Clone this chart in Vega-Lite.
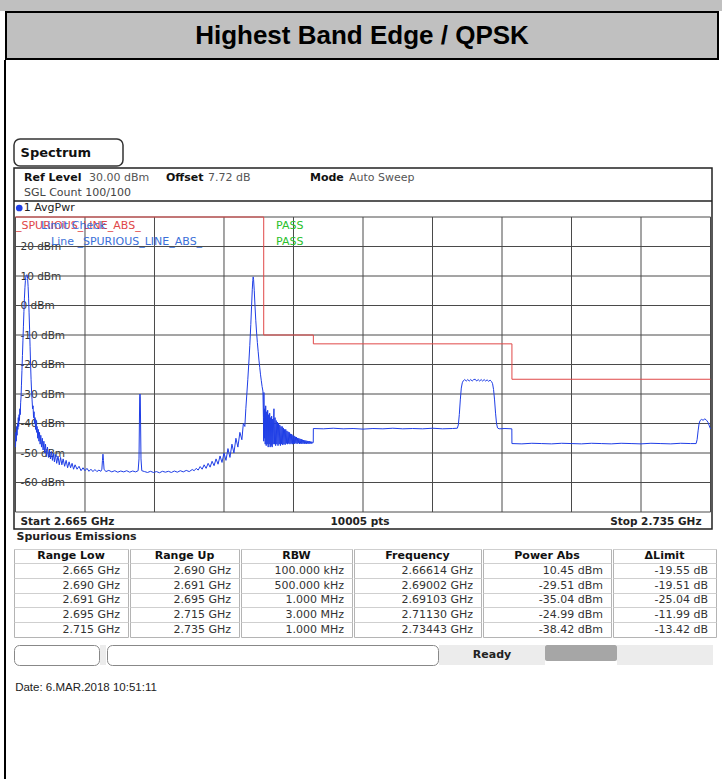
{
  "$schema": "https://vega.github.io/schema/vega-lite/v6.json",
  "background": "white",
  "padding": 0,
  "config": {
    "view": {"stroke": null},
    "concat": {"spacing": 0},
    "font": "DejaVu Sans",
    "text": {"font": "DejaVu Sans", "fontSize": 11}
  },
  "datasets": {
    "limit": [
      {"f": 2665, "lim": 30}, {"f": 2690, "lim": -10}, {"f": 2695, "lim": -13}, {"f": 2715, "lim": -25}, {"f": 2735, "lim": -25}
    ],
    "trace": [
      {"f":2665.00,"p":-48},{"f":2665.04,"p":-43},{"f":2665.08,"p":-46},{"f":2665.12,"p":-41},{"f":2665.16,"p":-44},{"f":2665.20,"p":-40},{"f":2665.24,"p":-42},{"f":2665.28,"p":-38},{"f":2665.32,"p":-41},{"f":2665.36,"p":-37},{"f":2665.40,"p":-39},{"f":2665.44,"p":-35},{"f":2665.48,"p":-37},{"f":2665.52,"p":-33},{"f":2665.56,"p":-31},{"f":2665.60,"p":-27},{"f":2665.65,"p":-22},{"f":2665.70,"p":-17},{"f":2665.75,"p":-12},{"f":2665.80,"p":-7},{"f":2665.85,"p":-2},{"f":2665.90,"p":2.5},{"f":2665.95,"p":6},{"f":2666.00,"p":8.5},{"f":2666.05,"p":9.8},{"f":2666.10,"p":10.3},{"f":2666.14,"p":10.45},{"f":2666.18,"p":10.2},{"f":2666.22,"p":9.2},{"f":2666.27,"p":6.5},{"f":2666.32,"p":2.5},{"f":2666.37,"p":-2.5},{"f":2666.42,"p":-8},{"f":2666.47,"p":-14},{"f":2666.52,"p":-20},{"f":2666.57,"p":-25},{"f":2666.62,"p":-29},{"f":2666.67,"p":-32},{"f":2666.72,"p":-35},{"f":2666.77,"p":-34},{"f":2666.82,"p":-38},{"f":2666.87,"p":-36},{"f":2666.92,"p":-40},{"f":2666.97,"p":-38},{"f":2667.02,"p":-42},{"f":2667.07,"p":-39},{"f":2667.12,"p":-43},{"f":2667.18,"p":-41},{"f":2667.24,"p":-45},{"f":2667.30,"p":-42},{"f":2667.36,"p":-46},{"f":2667.42,"p":-43},{"f":2667.48,"p":-47},{"f":2667.55,"p":-44},{"f":2667.62,"p":-48},{"f":2667.70,"p":-45},{"f":2667.78,"p":-49},{"f":2667.86,"p":-46},{"f":2667.94,"p":-50},
      {"f":2668.02,"p":-47},{"f":2668.12,"p":-51},{"f":2668.22,"p":-48},{"f":2668.32,"p":-51.5},{"f":2668.42,"p":-49},{"f":2668.52,"p":-52},{"f":2668.62,"p":-49.5},{"f":2668.72,"p":-52.5},{"f":2668.82,"p":-50},{"f":2668.92,"p":-53},{"f":2669.02,"p":-50.5},{"f":2669.15,"p":-53.5},{"f":2669.28,"p":-51},{"f":2669.41,"p":-54},{"f":2669.54,"p":-51.5},{"f":2669.67,"p":-54},{"f":2669.80,"p":-52},{"f":2669.95,"p":-54.5},{"f":2670.10,"p":-52.5},{"f":2670.25,"p":-55},{"f":2670.40,"p":-53},{"f":2670.55,"p":-55},{"f":2670.70,"p":-53.5},{"f":2670.85,"p":-55.5},{"f":2671.00,"p":-54},{"f":2671.20,"p":-55.5},{"f":2671.40,"p":-54.5},{"f":2671.60,"p":-56},{"f":2671.80,"p":-55},{"f":2672.00,"p":-56},{"f":2672.20,"p":-55.2},{"f":2672.40,"p":-56.2},{"f":2672.60,"p":-55.5},{"f":2672.80,"p":-56.3},{"f":2673.00,"p":-55.6},{"f":2673.20,"p":-56.3},{"f":2673.40,"p":-55.8},{"f":2673.60,"p":-56.2},
      {"f":2673.70,"p":-55.5},{"f":2673.76,"p":-52.5},{"f":2673.81,"p":-50.4},{"f":2673.86,"p":-52.5},{"f":2673.92,"p":-55.5},
      {"f":2674.10,"p":-56.3},{"f":2674.40,"p":-55.9},{"f":2674.70,"p":-56.4},{"f":2675.00,"p":-56},{"f":2675.30,"p":-56.5},{"f":2675.60,"p":-56.1},{"f":2675.90,"p":-56.4},{"f":2676.20,"p":-56},{"f":2676.50,"p":-56.5},{"f":2676.80,"p":-56.1},{"f":2677.10,"p":-56.4},{"f":2677.35,"p":-56},
      {"f":2677.44,"p":-52},{"f":2677.48,"p":-40},{"f":2677.51,"p":-31},{"f":2677.54,"p":-30},{"f":2677.57,"p":-31},{"f":2677.60,"p":-40},{"f":2677.64,"p":-52},{"f":2677.72,"p":-56},
      {"f":2678.00,"p":-56.3},{"f":2678.30,"p":-56.6},{"f":2678.60,"p":-56.2},{"f":2678.90,"p":-56.6},{"f":2679.20,"p":-56.3},{"f":2679.50,"p":-56.7},{"f":2679.80,"p":-56.2},{"f":2680.10,"p":-56.5},{"f":2680.40,"p":-56.2},{"f":2680.70,"p":-56.6},{"f":2681.00,"p":-56.1},{"f":2681.30,"p":-56.5},{"f":2681.60,"p":-56},{"f":2681.90,"p":-56.4},{"f":2682.20,"p":-55.9},{"f":2682.50,"p":-56.3},{"f":2682.80,"p":-55.6},
      {"f":2683.00,"p":-56},{"f":2683.20,"p":-55.2},{"f":2683.40,"p":-55.8},{"f":2683.60,"p":-54.6},{"f":2683.80,"p":-55.5},{"f":2684.00,"p":-54},{"f":2684.20,"p":-55.2},{"f":2684.40,"p":-53.5},{"f":2684.60,"p":-54.8},{"f":2684.80,"p":-52.8},{"f":2685.00,"p":-54.3},{"f":2685.20,"p":-52},{"f":2685.40,"p":-53.8},{"f":2685.60,"p":-51},{"f":2685.80,"p":-53.2},{"f":2686.00,"p":-50},{"f":2686.20,"p":-52.5},{"f":2686.40,"p":-48.5},{"f":2686.60,"p":-51.5},{"f":2686.80,"p":-47},{"f":2687.00,"p":-50},{"f":2687.20,"p":-45},{"f":2687.40,"p":-48},{"f":2687.60,"p":-43},{"f":2687.80,"p":-45.5},{"f":2687.95,"p":-40},{"f":2688.10,"p":-41},{"f":2688.20,"p":-35},{"f":2688.30,"p":-30},{"f":2688.40,"p":-25},{"f":2688.50,"p":-19.5},{"f":2688.60,"p":-13.5},{"f":2688.70,"p":-6.5},{"f":2688.78,"p":0},{"f":2688.85,"p":5.5},{"f":2688.90,"p":8.5},{"f":2688.94,"p":9.7},{"f":2688.98,"p":8.8},
      {"f":2689.05,"p":5},{"f":2689.12,"p":0},{"f":2689.20,"p":-5},{"f":2689.28,"p":-9},{"f":2689.36,"p":-12.5},{"f":2689.44,"p":-15.5},{"f":2689.52,"p":-18.5},{"f":2689.60,"p":-21},{"f":2689.68,"p":-23.5},{"f":2689.76,"p":-25.5},{"f":2689.84,"p":-27.5},{"f":2689.92,"p":-29},{"f":2689.97,"p":-38},{"f":2690.00,"p":-46},
      {"f":2690.02,"p":-29.5},{"f":2690.06,"p":-45},{"f":2690.10,"p":-35},{"f":2690.15,"p":-47},{"f":2690.20,"p":-34},{"f":2690.25,"p":-47.5},{"f":2690.30,"p":-36},{"f":2690.35,"p":-47},{"f":2690.40,"p":-35.5},{"f":2690.45,"p":-48},{"f":2690.50,"p":-37},{"f":2690.55,"p":-47},{"f":2690.60,"p":-36.5},{"f":2690.65,"p":-48},{"f":2690.70,"p":-38},{"f":2690.75,"p":-47.5},{"f":2690.80,"p":-37.5},{"f":2690.85,"p":-48},{"f":2690.90,"p":-38.5},{"f":2690.95,"p":-47},{"f":2691.00,"p":-38},
      {"f":2691.03,"p":-35},{"f":2691.08,"p":-47},{"f":2691.14,"p":-38},{"f":2691.20,"p":-47.5},{"f":2691.26,"p":-39},{"f":2691.32,"p":-47},{"f":2691.38,"p":-39.5},{"f":2691.44,"p":-47.5},{"f":2691.50,"p":-40},{"f":2691.56,"p":-47},{"f":2691.62,"p":-40.5},{"f":2691.68,"p":-47.5},{"f":2691.74,"p":-41},{"f":2691.80,"p":-47},{"f":2691.86,"p":-41},{"f":2691.92,"p":-47.3},{"f":2691.98,"p":-41.5},{"f":2692.04,"p":-47},{"f":2692.10,"p":-42},{"f":2692.16,"p":-47.2},{"f":2692.22,"p":-42},{"f":2692.28,"p":-46.8},{"f":2692.34,"p":-42.5},{"f":2692.40,"p":-47},{"f":2692.46,"p":-42.8},{"f":2692.52,"p":-46.8},{"f":2692.58,"p":-43},{"f":2692.64,"p":-47},{"f":2692.70,"p":-43.5},{"f":2692.76,"p":-46.8},{"f":2692.82,"p":-43.6},{"f":2692.88,"p":-47},{"f":2692.94,"p":-44},{"f":2693.00,"p":-46.8},{"f":2693.06,"p":-44.2},{"f":2693.12,"p":-46.9},{"f":2693.18,"p":-44.5},{"f":2693.24,"p":-46.7},{"f":2693.30,"p":-44.6},{"f":2693.36,"p":-46.9},{"f":2693.42,"p":-44.9},{"f":2693.48,"p":-46.7},{"f":2693.54,"p":-45},{"f":2693.60,"p":-46.9},{"f":2693.66,"p":-45.2},{"f":2693.72,"p":-46.8},{"f":2693.78,"p":-45.3},{"f":2693.84,"p":-46.9},{"f":2693.90,"p":-45.5},{"f":2693.96,"p":-46.8},{"f":2694.02,"p":-45.6},{"f":2694.08,"p":-46.9},{"f":2694.14,"p":-45.7},{"f":2694.20,"p":-46.8},{"f":2694.26,"p":-45.8},{"f":2694.32,"p":-46.9},{"f":2694.38,"p":-45.9},{"f":2694.44,"p":-46.8},{"f":2694.50,"p":-46},{"f":2694.56,"p":-46.9},{"f":2694.62,"p":-46},{"f":2694.68,"p":-46.8},{"f":2694.74,"p":-46.1},{"f":2694.80,"p":-46.8},{"f":2694.86,"p":-46.2},{"f":2694.92,"p":-46.7},{"f":2694.99,"p":-46.4},
      {"f":2695.00,"p":-41.7},{"f":2696,"p":-41.8},{"f":2697,"p":-41.6},{"f":2698,"p":-41.8},{"f":2699,"p":-41.7},{"f":2700,"p":-41.9},{"f":2701,"p":-41.7},{"f":2702,"p":-41.8},{"f":2703,"p":-41.6},{"f":2704,"p":-41.8},{"f":2705,"p":-41.7},{"f":2706,"p":-41.8},{"f":2707,"p":-41.6},{"f":2708,"p":-41.8},{"f":2709,"p":-41.7},{"f":2709.50,"p":-41.6},
      {"f":2709.60,"p":-40.5},{"f":2709.70,"p":-37},{"f":2709.80,"p":-32},{"f":2709.90,"p":-28},{"f":2710.00,"p":-26.2},{"f":2710.10,"p":-25.5},{"f":2710.25,"p":-25.1},{"f":2710.40,"p":-25.6},{"f":2710.55,"p":-25.1},{"f":2710.70,"p":-25.6},{"f":2710.85,"p":-25.1},{"f":2711.00,"p":-25.6},{"f":2711.15,"p":-25.1},{"f":2711.30,"p":-25.0},{"f":2711.45,"p":-25.6},{"f":2711.60,"p":-25.1},{"f":2711.75,"p":-25.6},{"f":2711.90,"p":-25.1},{"f":2712.05,"p":-25.6},{"f":2712.20,"p":-25.1},{"f":2712.35,"p":-25.6},{"f":2712.50,"p":-25.2},{"f":2712.65,"p":-25.7},{"f":2712.80,"p":-25.3},{"f":2712.95,"p":-25.8},{"f":2713.05,"p":-26.5},{"f":2713.15,"p":-28.5},{"f":2713.25,"p":-32},{"f":2713.35,"p":-36.5},{"f":2713.45,"p":-40},{"f":2713.55,"p":-41.5},{"f":2713.70,"p":-41.8},{"f":2714.30,"p":-41.7},{"f":2714.99,"p":-41.8},
      {"f":2715.00,"p":-46.8},{"f":2716,"p":-46.9},{"f":2717,"p":-46.7},{"f":2718,"p":-46.8},{"f":2719,"p":-46.9},{"f":2720,"p":-46.7},{"f":2721,"p":-46.8},{"f":2722,"p":-46.9},{"f":2723,"p":-46.7},{"f":2724,"p":-46.8},{"f":2725,"p":-46.9},{"f":2726,"p":-46.7},{"f":2727,"p":-46.8},{"f":2728,"p":-46.9},{"f":2729,"p":-46.7},{"f":2730,"p":-46.8},{"f":2731,"p":-46.9},{"f":2732,"p":-46.7},{"f":2733,"p":-46.8},{"f":2733.55,"p":-46.8},
      {"f":2733.65,"p":-45.5},{"f":2733.75,"p":-42.5},{"f":2733.85,"p":-40},{"f":2733.95,"p":-39},{"f":2734.10,"p":-38.6},{"f":2734.25,"p":-38.9},{"f":2734.43,"p":-38.42},{"f":2734.60,"p":-38.9},{"f":2734.75,"p":-39.6},{"f":2734.88,"p":-40.8},{"f":2735.00,"p":-41.8}
    ],
    "table": [
      {"r":0,"c":"Range Low","v":"Range Low"},{"r":0,"c":"Range Up","v":"Range Up"},{"r":0,"c":"RBW","v":"RBW"},{"r":0,"c":"Frequency","v":"Frequency"},{"r":0,"c":"Power Abs","v":"Power Abs"},{"r":0,"c":"ΔLimit","v":"ΔLimit"},
      {"r":1,"c":"Range Low","v":"2.665 GHz"},{"r":1,"c":"Range Up","v":"2.690 GHz"},{"r":1,"c":"RBW","v":"100.000 kHz"},{"r":1,"c":"Frequency","v":"2.66614 GHz"},{"r":1,"c":"Power Abs","v":"10.45 dBm"},{"r":1,"c":"ΔLimit","v":"-19.55 dB"},
      {"r":2,"c":"Range Low","v":"2.690 GHz"},{"r":2,"c":"Range Up","v":"2.691 GHz"},{"r":2,"c":"RBW","v":"500.000 kHz"},{"r":2,"c":"Frequency","v":"2.69002 GHz"},{"r":2,"c":"Power Abs","v":"-29.51 dBm"},{"r":2,"c":"ΔLimit","v":"-19.51 dB"},
      {"r":3,"c":"Range Low","v":"2.691 GHz"},{"r":3,"c":"Range Up","v":"2.695 GHz"},{"r":3,"c":"RBW","v":"1.000 MHz"},{"r":3,"c":"Frequency","v":"2.69103 GHz"},{"r":3,"c":"Power Abs","v":"-35.04 dBm"},{"r":3,"c":"ΔLimit","v":"-25.04 dB"},
      {"r":4,"c":"Range Low","v":"2.695 GHz"},{"r":4,"c":"Range Up","v":"2.715 GHz"},{"r":4,"c":"RBW","v":"3.000 MHz"},{"r":4,"c":"Frequency","v":"2.71130 GHz"},{"r":4,"c":"Power Abs","v":"-24.99 dBm"},{"r":4,"c":"ΔLimit","v":"-11.99 dB"},
      {"r":5,"c":"Range Low","v":"2.715 GHz"},{"r":5,"c":"Range Up","v":"2.735 GHz"},{"r":5,"c":"RBW","v":"1.000 MHz"},{"r":5,"c":"Frequency","v":"2.73443 GHz"},{"r":5,"c":"Power Abs","v":"-38.42 dBm"},{"r":5,"c":"ΔLimit","v":"-13.42 dB"}
    ]
  },
  "spacing": 0,
  "vconcat": [
    {"width": 722, "height": 11, "view": {"fill": "#c0c0c0", "stroke": null}, "data": {"values": [{}]}, "mark": {"type": "point", "opacity": 0, "size": 0, "strokeWidth": 0}},
    {
      "spacing": 0,
      "hconcat": [
        {"width": 5, "height": 47, "data": {"values": [{}]}, "mark": {"type": "point", "opacity": 0, "size": 0, "strokeWidth": 0}},
        {"width": 712, "height": 47, "view": {"fill": "#c0c0c0", "stroke": "#000000", "strokeWidth": 2},
         "data": {"values": [{"t": "Highest Band Edge / QPSK"}]},
         "mark": {"type": "text", "font": "Liberation Sans", "fontSize": 26, "fontWeight": "bold", "color": "#000000"},
         "encoding": {"text": {"field": "t"}}}
      ]
    },
    {
      "spacing": 0,
      "hconcat": [
        {"width": 4, "height": 719, "data": {"values": [{}]}, "mark": {"type": "point", "opacity": 0, "size": 0, "strokeWidth": 0}},
        {"width": 2, "height": 719, "view": {"fill": "#000000", "stroke": null}, "data": {"values": [{}]}, "mark": {"type": "point", "opacity": 0, "size": 0, "strokeWidth": 0}},
        {"width": 6, "height": 719, "data": {"values": [{}]}, "mark": {"type": "point", "opacity": 0, "size": 0, "strokeWidth": 0}},
        {
          "spacing": 0,
          "vconcat": [
            {"width": 698, "height": 78, "data": {"values": [{}]}, "mark": {"type": "point", "opacity": 0, "size": 0, "strokeWidth": 0}},
            {"width": 109, "height": 27, "view": {"stroke": "#333333", "strokeWidth": 1.5, "cornerRadius": 6, "fill": "white"},
             "data": {"values": [{}]},
             "mark": {"type": "text", "text": "Spectrum", "align": "left", "baseline": "middle", "fontSize": 13, "fontWeight": "bold", "color": "#111111"},
             "encoding": {"x": {"datum": 0.06, "type": "quantitative", "scale": {"domain": [0, 1]}, "axis": null}}},
            {
              "width": 698, "height": 361,
              "view": {"stroke": "#222222", "strokeWidth": 1.5},
              "layer": [
                {
                  "data": {"values": [{"f":2665},{"f":2672},{"f":2679},{"f":2686},{"f":2693},{"f":2700},{"f":2707},{"f":2714},{"f":2721},{"f":2728},{"f":2735}]},
                  "mark": {"type": "rule", "color": "#4a4a4a", "strokeWidth": 1},
                  "encoding": {
                    "x": {"field": "f", "type": "quantitative", "scale": {"domain": [2664.85, 2735.15], "nice": false, "zero": false},
                      "axis": {"values": [2665, 2700, 2735], "title": null, "grid": false, "ticks": false, "tickSize": 0, "domain": false,
                        "labelExpr": "datum.value == 2665 ? 'Start 2.665 GHz' : datum.value == 2700 ? '10005 pts' : 'Stop 2.735 GHz'",
                        "labelAlign": {"condition": [{"test": "datum.value == 2665", "value": "left"}, {"test": "datum.value == 2735", "value": "right"}], "value": "center"},
                        "labelOffset": {"condition": [{"test": "datum.value == 2665", "value": 4.5}, {"test": "datum.value == 2735", "value": -9.5}], "value": -3.5},
                        "labelBaseline": "middle", "labelPadding": -8, "labelFont": "DejaVu Sans", "labelFontSize": 10.5, "labelFontWeight": "bold", "labelColor": "#222222",
                        "labelOverlap": false, "labelFlush": false, "labelBound": false, "minExtent": 0, "maxExtent": 0}},
                    "y": {"datum": -70, "type": "quantitative", "scale": {"domain": [-75.76, 46.61], "nice": false, "zero": false}},
                    "y2": {"datum": 30}
                  }
                },
                {
                  "data": {"values": [{"lvl":30},{"lvl":20},{"lvl":10},{"lvl":0},{"lvl":-10},{"lvl":-20},{"lvl":-30},{"lvl":-40},{"lvl":-50},{"lvl":-60},{"lvl":-70}]},
                  "mark": {"type": "rule", "color": "#4a4a4a", "strokeWidth": 1},
                  "encoding": {
                    "y": {"field": "lvl", "type": "quantitative", "scale": {"domain": [-75.76, 46.61], "nice": false, "zero": false},
                      "axis": {"values": [20, 10, 0, -10, -20, -30, -40, -50, -60], "title": null, "grid": false, "ticks": false, "tickSize": 0, "domain": false,
                        "labelExpr": "datum.value + ' dBm'", "labelAlign": "left", "labelBaseline": "middle", "labelPadding": -6,
                        "labelFont": "DejaVu Sans", "labelFontSize": 10.5, "labelColor": "#333333",
                        "labelOverlap": false, "labelFlush": false, "labelBound": false, "minExtent": 0, "maxExtent": 0}},
                    "x": {"datum": 2665, "type": "quantitative", "scale": {"domain": [2664.85, 2735.15], "nice": false, "zero": false}},
                    "x2": {"datum": 2735}
                  }
                },
                {
                  "data": {"values": [{}]},
                  "mark": {"type": "rule", "color": "#222222", "strokeWidth": 1.5},
                  "encoding": {
                    "y": {"datum": 35.42, "type": "quantitative"},
                    "x": {"datum": 2664.85, "type": "quantitative"},
                    "x2": {"datum": 2735.15}
                  }
                },
                {
                  "data": {"name": "limit"},
                  "mark": {"type": "line", "interpolate": "step-after", "color": "#e04848", "strokeWidth": 1},
                  "encoding": {
                    "x": {"field": "f", "type": "quantitative"},
                    "y": {"field": "lim", "type": "quantitative"}
                  }
                },
                {
                  "data": {"name": "trace"},
                  "mark": {"type": "line", "color": "#1f3ee6", "strokeWidth": 1},
                  "encoding": {
                    "x": {"field": "f", "type": "quantitative"},
                    "y": {"field": "p", "type": "quantitative"}
                  }
                },
                {"data": {"values": [{}]}, "mark": {"type": "point", "filled": true, "color": "#1f3ee6", "size": 45, "opacity": 1},
                 "encoding": {"x": {"datum": 2665.38, "type": "quantitative"}, "y": {"datum": 33.05, "type": "quantitative"}}},
                {"data": {"values": [{}]}, "mark": {"type": "text", "text": "1 AvgPwr", "align": "left", "baseline": "middle", "fontSize": 11, "color": "#222222"},
                 "encoding": {"x": {"datum": 2665.83, "type": "quantitative"}, "y": {"datum": 33.05, "type": "quantitative"}}},
                {"data": {"values": [{}]}, "mark": {"type": "text", "text": "_SPURIOUS_LINE_ABS_", "align": "left", "baseline": "middle", "fontSize": 11, "color": "#e04848"},
                 "encoding": {"x": {"datum": 2665.05, "type": "quantitative"}, "y": {"datum": 26.95, "type": "quantitative"}}},
                {"data": {"values": [{}]}, "mark": {"type": "text", "text": "Limit Check", "align": "left", "baseline": "middle", "fontSize": 11, "color": "#3a6fd8"},
                 "encoding": {"x": {"datum": 2667.57, "type": "quantitative"}, "y": {"datum": 26.95, "type": "quantitative"}}},
                {"data": {"values": [{}]}, "mark": {"type": "text", "text": "Line _SPURIOUS_LINE_ABS_", "align": "left", "baseline": "middle", "fontSize": 11, "color": "#3a6fd8"},
                 "encoding": {"x": {"datum": 2668.58, "type": "quantitative"}, "y": {"datum": 21.52, "type": "quantitative"}}},
                {"data": {"values": [{}]}, "mark": {"type": "text", "text": "PASS", "align": "left", "baseline": "middle", "fontSize": 11, "color": "#2bc02b"},
                 "encoding": {"x": {"datum": 2691.24, "type": "quantitative"}, "y": {"datum": 26.95, "type": "quantitative"}}},
                {"data": {"values": [{}]}, "mark": {"type": "text", "text": "PASS", "align": "left", "baseline": "middle", "fontSize": 11, "color": "#2bc02b"},
                 "encoding": {"x": {"datum": 2691.24, "type": "quantitative"}, "y": {"datum": 21.52, "type": "quantitative"}}},
                {"data": {"values": [{}]}, "mark": {"type": "text", "text": "Ref Level", "align": "left", "baseline": "middle", "fontSize": 11, "fontWeight": "bold", "color": "#111111"},
                 "encoding": {"x": {"datum": 2665.86, "type": "quantitative"}, "y": {"datum": 43.22, "type": "quantitative"}}},
                {"data": {"values": [{}]}, "mark": {"type": "text", "text": "30.00 dBm", "align": "left", "baseline": "middle", "fontSize": 11, "color": "#555555"},
                 "encoding": {"x": {"datum": 2672.4, "type": "quantitative"}, "y": {"datum": 43.22, "type": "quantitative"}}},
                {"data": {"values": [{}]}, "mark": {"type": "text", "text": "Offset", "align": "left", "baseline": "middle", "fontSize": 11, "fontWeight": "bold", "color": "#111111"},
                 "encoding": {"x": {"datum": 2680.16, "type": "quantitative"}, "y": {"datum": 43.22, "type": "quantitative"}}},
                {"data": {"values": [{}]}, "mark": {"type": "text", "text": "7.72 dB", "align": "left", "baseline": "middle", "fontSize": 11, "color": "#555555"},
                 "encoding": {"x": {"datum": 2684.39, "type": "quantitative"}, "y": {"datum": 43.22, "type": "quantitative"}}},
                {"data": {"values": [{}]}, "mark": {"type": "text", "text": "Mode", "align": "left", "baseline": "middle", "fontSize": 11, "fontWeight": "bold", "color": "#111111"},
                 "encoding": {"x": {"datum": 2694.66, "type": "quantitative"}, "y": {"datum": 43.22, "type": "quantitative"}}},
                {"data": {"values": [{}]}, "mark": {"type": "text", "text": "Auto Sweep", "align": "left", "baseline": "middle", "fontSize": 11, "color": "#555555"},
                 "encoding": {"x": {"datum": 2698.59, "type": "quantitative"}, "y": {"datum": 43.22, "type": "quantitative"}}},
                {"data": {"values": [{}]}, "mark": {"type": "text", "text": "SGL Count 100/100", "align": "left", "baseline": "middle", "fontSize": 11, "color": "#444444"},
                 "encoding": {"x": {"datum": 2665.86, "type": "quantitative"}, "y": {"datum": 38.13, "type": "quantitative"}}}
              ]
            },
            {
              "spacing": 0,
              "title": {"text": "Spurious Emissions", "anchor": "start", "font": "DejaVu Sans", "fontSize": 11, "fontWeight": "bold", "color": "#222222", "offset": 7, "dx": 3},
              "hconcat": [
                {"width": 114, "height": 88, "view": {"stroke": "#b4b4b4", "strokeWidth": 1}, "data": {"name": "table"}, "transform": [{"filter": "datum.c == 'Range Low'"}],
                 "encoding": {"y": {"field": "r", "type": "ordinal", "scale": {"type": "band", "domain": [0,1,2,3,4,5], "paddingInner": 0, "paddingOuter": 0}, "axis": {"labels": false, "ticks": false, "domain": false, "grid": true, "gridColor": "#cfcfcf", "bandPosition": 0, "title": null, "minExtent": 0, "maxExtent": 0}}},
                 "layer": [
                   {"transform": [{"filter": "datum.r == 0"}], "mark": {"type": "text", "fontWeight": "bold", "fontSize": 11, "color": "#111111"}, "encoding": {"text": {"field": "v"}}},
                   {"transform": [{"filter": "datum.r > 0"}], "mark": {"type": "text", "align": "right", "x": "width", "dx": -8, "fontSize": 11, "color": "#333333"}, "encoding": {"text": {"field": "v"}}}
                 ]},
                {"width": 109, "height": 88, "view": {"stroke": "#b4b4b4", "strokeWidth": 1}, "data": {"name": "table"}, "transform": [{"filter": "datum.c == 'Range Up'"}],
                 "encoding": {"y": {"field": "r", "type": "ordinal", "scale": {"type": "band", "domain": [0,1,2,3,4,5], "paddingInner": 0, "paddingOuter": 0}, "axis": {"labels": false, "ticks": false, "domain": false, "grid": true, "gridColor": "#cfcfcf", "bandPosition": 0, "title": null, "minExtent": 0, "maxExtent": 0}}},
                 "layer": [
                   {"transform": [{"filter": "datum.r == 0"}], "mark": {"type": "text", "fontWeight": "bold", "fontSize": 11, "color": "#111111"}, "encoding": {"text": {"field": "v"}}},
                   {"transform": [{"filter": "datum.r > 0"}], "mark": {"type": "text", "align": "right", "x": "width", "dx": -8, "fontSize": 11, "color": "#333333"}, "encoding": {"text": {"field": "v"}}}
                 ]},
                {"width": 111, "height": 88, "view": {"stroke": "#b4b4b4", "strokeWidth": 1}, "data": {"name": "table"}, "transform": [{"filter": "datum.c == 'RBW'"}],
                 "encoding": {"y": {"field": "r", "type": "ordinal", "scale": {"type": "band", "domain": [0,1,2,3,4,5], "paddingInner": 0, "paddingOuter": 0}, "axis": {"labels": false, "ticks": false, "domain": false, "grid": true, "gridColor": "#cfcfcf", "bandPosition": 0, "title": null, "minExtent": 0, "maxExtent": 0}}},
                 "layer": [
                   {"transform": [{"filter": "datum.r == 0"}], "mark": {"type": "text", "fontWeight": "bold", "fontSize": 11, "color": "#111111"}, "encoding": {"text": {"field": "v"}}},
                   {"transform": [{"filter": "datum.r > 0"}], "mark": {"type": "text", "align": "right", "x": "width", "dx": -8, "fontSize": 11, "color": "#333333"}, "encoding": {"text": {"field": "v"}}}
                 ]},
                {"width": 127, "height": 88, "view": {"stroke": "#b4b4b4", "strokeWidth": 1}, "data": {"name": "table"}, "transform": [{"filter": "datum.c == 'Frequency'"}],
                 "encoding": {"y": {"field": "r", "type": "ordinal", "scale": {"type": "band", "domain": [0,1,2,3,4,5], "paddingInner": 0, "paddingOuter": 0}, "axis": {"labels": false, "ticks": false, "domain": false, "grid": true, "gridColor": "#cfcfcf", "bandPosition": 0, "title": null, "minExtent": 0, "maxExtent": 0}}},
                 "layer": [
                   {"transform": [{"filter": "datum.r == 0"}], "mark": {"type": "text", "fontWeight": "bold", "fontSize": 11, "color": "#111111"}, "encoding": {"text": {"field": "v"}}},
                   {"transform": [{"filter": "datum.r > 0"}], "mark": {"type": "text", "align": "right", "x": "width", "dx": -8, "fontSize": 11, "color": "#333333"}, "encoding": {"text": {"field": "v"}}}
                 ]},
                {"width": 128, "height": 88, "view": {"stroke": "#b4b4b4", "strokeWidth": 1}, "data": {"name": "table"}, "transform": [{"filter": "datum.c == 'Power Abs'"}],
                 "encoding": {"y": {"field": "r", "type": "ordinal", "scale": {"type": "band", "domain": [0,1,2,3,4,5], "paddingInner": 0, "paddingOuter": 0}, "axis": {"labels": false, "ticks": false, "domain": false, "grid": true, "gridColor": "#cfcfcf", "bandPosition": 0, "title": null, "minExtent": 0, "maxExtent": 0}}},
                 "layer": [
                   {"transform": [{"filter": "datum.r == 0"}], "mark": {"type": "text", "fontWeight": "bold", "fontSize": 11, "color": "#111111"}, "encoding": {"text": {"field": "v"}}},
                   {"transform": [{"filter": "datum.r > 0"}], "mark": {"type": "text", "align": "right", "x": "width", "dx": -8, "fontSize": 11, "color": "#333333"}, "encoding": {"text": {"field": "v"}}}
                 ]},
                {"width": 103, "height": 88, "view": {"stroke": "#b4b4b4", "strokeWidth": 1}, "data": {"name": "table"}, "transform": [{"filter": "datum.c == 'ΔLimit'"}],
                 "encoding": {"y": {"field": "r", "type": "ordinal", "scale": {"type": "band", "domain": [0,1,2,3,4,5], "paddingInner": 0, "paddingOuter": 0}, "axis": {"labels": false, "ticks": false, "domain": false, "grid": true, "gridColor": "#cfcfcf", "bandPosition": 0, "title": null, "minExtent": 0, "maxExtent": 0}}},
                 "layer": [
                   {"transform": [{"filter": "datum.r == 0"}], "mark": {"type": "text", "fontWeight": "bold", "fontSize": 11, "color": "#111111"}, "encoding": {"text": {"field": "v"}}},
                   {"transform": [{"filter": "datum.r > 0"}], "mark": {"type": "text", "align": "right", "x": "width", "dx": -8, "fontSize": 11, "color": "#333333"}, "encoding": {"text": {"field": "v"}}}
                 ]}
              ]
            },
            {"width": 698, "height": 6, "data": {"values": [{}]}, "mark": {"type": "point", "opacity": 0, "size": 0, "strokeWidth": 0}},
            {
              "spacing": 0,
              "hconcat": [
                {"width": 85, "height": 20, "view": {"stroke": "#888888", "strokeWidth": 1, "cornerRadius": 5, "fill": "white"}, "data": {"values": [{}]}, "mark": {"type": "point", "opacity": 0, "size": 0, "strokeWidth": 0}},
                {"width": 6, "height": 20, "view": {"fill": "#ececec", "stroke": null}, "data": {"values": [{}]}, "mark": {"type": "point", "opacity": 0, "size": 0, "strokeWidth": 0}},
                {"width": 331, "height": 20, "view": {"stroke": "#888888", "strokeWidth": 1, "cornerRadius": 5, "fill": "white"}, "data": {"values": [{}]}, "mark": {"type": "point", "opacity": 0, "size": 0, "strokeWidth": 0}},
                {"width": 106, "height": 20, "view": {"fill": "#ececec", "stroke": null}, "data": {"values": [{"t": "Ready"}]}, "mark": {"type": "text", "fontWeight": "bold", "fontSize": 11, "color": "#222222"}, "encoding": {"text": {"field": "t"}}},
                {"width": 72, "height": 16, "view": {"fill": "#a6a6a6", "stroke": null, "cornerRadius": 2}, "data": {"values": [{}]}, "mark": {"type": "point", "opacity": 0, "size": 0, "strokeWidth": 0}},
                {"width": 96, "height": 20, "view": {"fill": "#ececec", "stroke": null}, "data": {"values": [{}]}, "mark": {"type": "point", "opacity": 0, "size": 0, "strokeWidth": 0}}
              ]
            },
            {"width": 698, "height": 12, "data": {"values": [{}]}, "mark": {"type": "point", "opacity": 0, "size": 0, "strokeWidth": 0}},
            {"width": 144, "height": 20, "data": {"values": [{"t": "Date: 6.MAR.2018  10:51:11"}]}, "mark": {"type": "text", "font": "Liberation Sans", "fontSize": 11.5, "color": "#222222"}, "encoding": {"text": {"field": "t"}}}
          ]
        },
        {"width": 6, "height": 719, "data": {"values": [{}]}, "mark": {"type": "point", "opacity": 0, "size": 0, "strokeWidth": 0}},
        {"width": 2, "height": 719, "view": {"fill": "#000000", "stroke": null}, "data": {"values": [{}]}, "mark": {"type": "point", "opacity": 0, "size": 0, "strokeWidth": 0}},
        {"width": 3, "height": 719, "data": {"values": [{}]}, "mark": {"type": "point", "opacity": 0, "size": 0, "strokeWidth": 0}}
      ]
    }
  ]
}
